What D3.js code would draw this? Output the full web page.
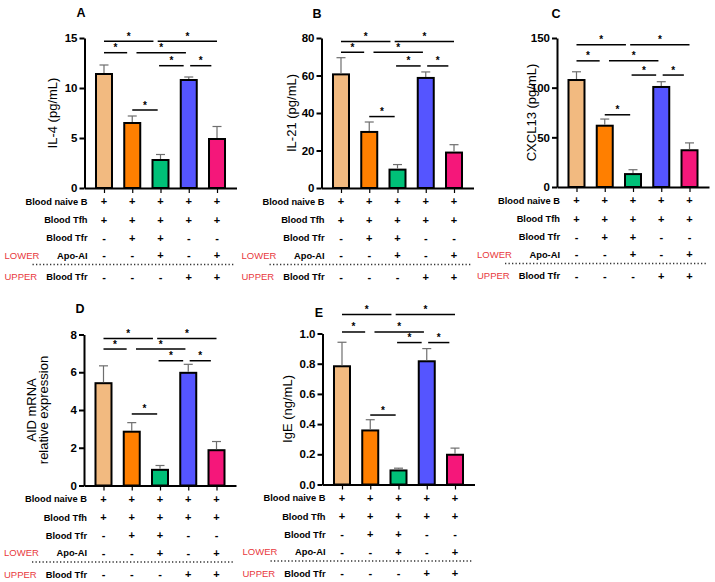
<!DOCTYPE html>
<html>
<head>
<meta charset="utf-8">
<script src="https://cdn.jsdelivr.net/npm/d3@7"></script>
<style>
  body { margin: 0; background: #fff; }
  svg { font-family: "Liberation Sans", Arial, sans-serif; }
</style>
</head>
<body>
<svg id="chart" width="715" height="582"></svg>
<script>
// data
const panelLetters = ["A", "B", "C", "D", "E"];
const yLabels = [["IL-4 (pg/mL)"], ["IL-21 (pg/mL)"], ["CXCL13 (pg/mL)"], ["AID mRNA", "relative expression"], ["IgE (ng/mL)"]];
const yMax = [15, 80, 150, 8, 1];
const yStep = [5, 20, 50, 2, 0.2];

const meanA = [11.4, 6.5, 2.8, 10.8, 4.9];
const errA = [12.3, 7.2, 3.35, 11.1, 6.15];
const meanB = [60.6, 29.9, 9.8, 58.7, 18.9];
const errB = [69.5, 35.2, 12.5, 61.9, 23.1];
const meanC = [107.7, 61.7, 13, 100.7, 37];
const errC = [116, 68.4, 17.4, 106, 44.4];
const meanD = [5.42, 2.85, 0.83, 5.97, 1.87];
const errD = [6.34, 3.33, 1.06, 6.42, 2.33];
const meanE = [0.783, 0.358, 0.093, 0.816, 0.197];
const errE = [0.942, 0.429, 0.108, 0.90, 0.241];
const means = [meanA, meanB, meanC, meanD, meanE];
const errs = [errA, errB, errC, errD, errE];

// significance brackets: [from, to] in group index units, and the level they sit on
const sigPairs = [[0, 1.75], [1.9, 4], [0, 0.82], [1.15, 2.9], [1.95, 2.82], [3.05, 3.8], [1, 1.9]];
const sigLevel = [0, 0, 1, 1, 2, 2, 3];
const sigHeights = [
  [14.67, 13.53, 12.23, 7.8],
  [78.1, 72.4, 65.1, 38.1],
  [143.3, 127, 112.7, 72.7],
  [7.79, 7.23, 6.61, 3.79],
  [1.126, 1.01, 0.94, 0.46]
];

// condition table under each panel
const rowLabels = ["Blood naive B", "Blood Tfh", "Blood Tfr", "Apo-AI", "Blood Tfr"];
const rowTags = ["", "", "", "LOWER", "UPPER"];
const rowSigns = [
  ["+", "+", "+", "+", "+"],
  ["+", "+", "+", "+", "+"],
  ["-", "+", "+", "-", "-"],
  ["-", "-", "+", "-", "+"],
  ["-", "-", "-", "+", "+"]
];

// layout and style
const barColors = ["#f2ba80", "#ff7f00", "#00c078", "#5555ff", "#f5177a"];
const layout = [
  {x0: 84.5, y0: 188, yTop: 38, labelDx: -32, letter: [81, 13]},
  {x0: 321.5, y0: 188, yTop: 38, labelDx: -30, letter: [317, 14]},
  {x0: 557, y0: 187, yTop: 38, labelDx: -26, letter: [556, 14]},
  {x0: 84, y0: 485.5, yTop: 334.5, labelDx: -40.5, letter: [80, 309]},
  {x0: 322.5, y0: 484.5, yTop: 333.5, labelDx: -35, letter: [319, 313]}
];
const plotW = 152;
const rowDy = [13.5, 32, 50, 67.5, 89];
const dotDy = 76.5;

const svg = d3.select("#chart");
const groupIdx = d3.range(5);

layout.forEach((L, p) => {
  const g = svg.append("g");
  const x = d3.scalePoint().domain(groupIdx).range([L.x0, L.x0 + plotW]).padding(0.69);
  const step = x.step();
  const xi = v => x(0) + v * step;
  const y = d3.scaleLinear().domain([0, yMax[p]]).range([L.y0, L.yTop]);

  // bars
  g.selectAll("rect.bar").data(means[p]).join("rect")
    .attr("class", "bar")
    .attr("x", (d, i) => x(i) - 8)
    .attr("width", 16)
    .attr("y", d => y(d))
    .attr("height", d => L.y0 - y(d))
    .attr("fill", (d, i) => barColors[i])
    .attr("stroke", "#000")
    .attr("stroke-width", 2);

  // upper error bars
  const eb = g.selectAll("g.err").data(errs[p]).join("g").attr("class", "err")
    .attr("stroke", "#6e6e6e").attr("stroke-width", 1.2);
  eb.append("line")
    .attr("x1", (d, i) => x(i)).attr("x2", (d, i) => x(i))
    .attr("y1", (d, i) => y(means[p][i]) - 1).attr("y2", d => y(d));
  eb.append("line")
    .attr("x1", (d, i) => x(i) - 4.5).attr("x2", (d, i) => x(i) + 4.5)
    .attr("y1", d => y(d)).attr("y2", d => y(d));

  // y axis
  const yAxis = d3.axisLeft(y)
    .tickValues(d3.range(0, yMax[p] + yStep[p] / 2, yStep[p]))
    .tickFormat(yStep[p] < 1 ? d3.format(".1f") : d3.format("d"))
    .tickSize(5).tickSizeOuter(0).tickPadding(2);
  const ya = g.append("g").attr("transform", `translate(${L.x0},0)`).call(yAxis);
  ya.select(".domain").attr("stroke-width", 2);
  ya.selectAll(".tick line").attr("stroke-width", 2);
  ya.selectAll(".tick text").attr("font-size", 11.5).attr("font-weight", "bold").attr("fill", "#000");

  // x axis
  const xAxis = d3.axisBottom(x).tickSize(5).tickSizeOuter(0).tickFormat("");
  const xa = g.append("g").attr("transform", `translate(0,${L.y0})`).call(xAxis);
  xa.select(".domain").attr("stroke-width", 2);
  xa.selectAll(".tick line").attr("stroke-width", 1.2);

  // y label
  const lab = yLabels[p];
  const midY = (L.y0 + L.yTop) / 2;
  lab.forEach((t, k) => {
    g.append("text")
      .attr("transform", `translate(${L.x0 + L.labelDx + (k - (lab.length - 1)) * 12},${midY}) rotate(-90)`)
      .attr("text-anchor", "middle")
      .attr("dy", "0.35em")
      .attr("font-size", 13)
      .text(t);
  });

  // panel letter
  g.append("text")
    .attr("x", L.letter[0]).attr("y", L.letter[1])
    .attr("text-anchor", "middle").attr("dy", "0.35em")
    .attr("font-size", 12.5).attr("font-weight", "bold")
    .text(panelLetters[p]);

  // significance lines and stars
  sigPairs.forEach((pr, k) => {
    const hy = y(sigHeights[p][sigLevel[k]]);
    g.append("line")
      .attr("x1", xi(pr[0])).attr("x2", xi(pr[1]))
      .attr("y1", hy).attr("y2", hy)
      .attr("stroke", "#000").attr("stroke-width", 1.5);
    g.append("text")
      .attr("x", (xi(pr[0]) + xi(pr[1])) / 2).attr("y", hy - 1.5)
      .attr("text-anchor", "middle")
      .attr("font-size", 10).attr("font-weight", "bold")
      .text("*");
  });

  // condition table
  rowLabels.forEach((t, r) => {
    const ry = L.y0 + rowDy[r];
    g.append("text")
      .attr("x", L.x0 + 3).attr("y", ry).attr("dy", "0.35em")
      .attr("text-anchor", "end")
      .attr("font-size", 9.3).attr("font-weight", "bold")
      .text(t);
    if (rowTags[r]) {
      g.append("text")
        .attr("x", L.x0 - 80).attr("y", ry).attr("dy", "0.35em")
        .attr("font-size", 9.5).attr("fill", "#e8383d")
        .text(rowTags[r]);
    }
    g.selectAll(null).data(rowSigns[r]).join("text")
      .attr("x", (d, i) => x(i)).attr("y", ry).attr("dy", "0.35em")
      .attr("text-anchor", "middle")
      .attr("font-size", 11).attr("font-weight", "bold")
      .text(d => d);
  });

  g.append("line")
    .attr("x1", L.x0 - 52).attr("x2", L.x0 + plotW - 2)
    .attr("y1", L.y0 + dotDy).attr("y2", L.y0 + dotDy)
    .attr("stroke", "#333").attr("stroke-width", 1.3)
    .attr("stroke-dasharray", "1.3,2.2");
});
</script>
</body>
</html>
